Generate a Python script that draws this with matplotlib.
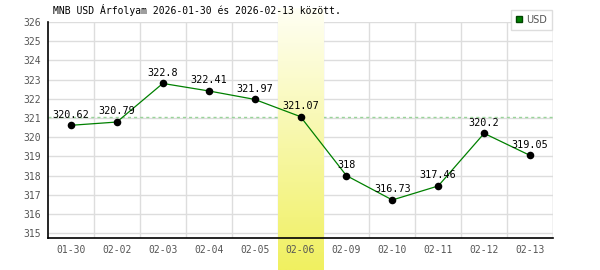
#!/usr/bin/env python3
"""
MNB USD exchange rate chart
"""
import numpy as np
import matplotlib
matplotlib.use('Agg')
import matplotlib.pyplot as plt
from matplotlib.colors import LinearSegmentedColormap
from matplotlib.lines import Line2D
from matplotlib.transforms import blended_transform_factory

# data
dates = ['01-30', '02-02', '02-03', '02-04', '02-05', '02-06',
         '02-09', '02-10', '02-11', '02-12', '02-13']
rates = [320.62, 320.79, 322.8, 322.41, 321.97, 321.07,
         318, 316.73, 317.46, 320.2, 319.05]
labels = ['320.62', '320.79', '322.8', '322.41', '321.97', '321.07',
          '318', '316.73', '317.46', '320.2', '319.05']
highlight = '02-06'
ref_rate = 321.07
y_ticks = list(range(315, 327))
title = 'MNB USD Árfolyam 2026-01-30 és 2026-02-13 között.'

mono = 'DejaVu Sans Mono'
grid_color = '#dddddd'
tick_color = '#555555'

fig = plt.figure(figsize=(6, 2.7), dpi=100)
fig.patch.set_facecolor('white')
ax = fig.add_axes([48 / 600, 1 - 238 / 270, 505 / 600, 216 / 270])
ax.set_facecolor('none')

x = np.arange(len(dates))

# grid drawn by hand so the highlight band can sit above it
for xv in np.arange(0.5, len(dates), 1.0):
    ax.axvline(xv, color=grid_color, lw=1, zorder=1)
for yv in y_ticks:
    ax.axhline(yv, color=grid_color, lw=1, zorder=1)

# reference line
ax.axhline(ref_rate, color='#99d499', lw=1, ls=(0, (2.2, 2.2)), zorder=1.5)

# highlighted day, gradient band running to the bottom of the figure
hi = dates.index(highlight)
cmap = LinearSegmentedColormap.from_list('band', ['#f0f060', '#fffff4'])
grad = np.linspace(0, 1, 256).reshape(-1, 1)
trans = blended_transform_factory(ax.transData, fig.transFigure)
ax.imshow(grad, cmap=cmap, aspect='auto', origin='lower',
          extent=[hi - 0.5, hi + 0.5, 0, 1 - 8 / 270],
          transform=trans, clip_on=False, zorder=2.2, interpolation='bilinear')
ax.set_xlim(-0.5, len(dates) - 0.5)
ax.set_ylim(314.75, 326)

# series
ax.plot(x, rates, color='#008000', lw=0.9, zorder=4)
ax.scatter(x, rates, s=30, color='black', zorder=5, linewidths=0)
for xi, yi, lab in zip(x, rates, labels):
    ax.annotate(lab, (xi, yi), xytext=(0, 4), textcoords='offset points',
                ha='center', va='bottom', fontsize=7.3, family=mono,
                color='black', zorder=6)

# axes styling
for side in ['top', 'right']:
    ax.spines[side].set_visible(False)
for side in ['left', 'bottom']:
    ax.spines[side].set_color('black')
    ax.spines[side].set_linewidth(1.2)
    ax.spines[side].set_zorder(3)
ax.axvline(len(dates) - 0.5, color=grid_color, lw=1, zorder=1)

ax.set_xticks(x)
ax.set_xticklabels(dates)
ax.set_yticks(y_ticks)
ax.tick_params(length=0, labelsize=7, labelcolor=tick_color)
ax.tick_params(axis='x', pad=5)
ax.tick_params(axis='y', pad=5)
for lab in ax.get_xticklabels() + ax.get_yticklabels():
    lab.set_family(mono)
ax.xaxis.set_zorder(3)

fig.text(53 / 600, 1 - 14 / 270, title, fontsize=7, family=mono,
         color='black', va='baseline', ha='left')

handle = Line2D([], [], marker='s', ls='none', markersize=5,
                markerfacecolor='#008000', markeredgecolor='#004400')
leg = fig.legend([handle], ['USD'], loc='upper right',
                 bbox_to_anchor=(552 / 600, 1 - 10 / 270),
                 fancybox=False, edgecolor=grid_color, framealpha=1,
                 handlelength=0.8, handletextpad=0.3, borderpad=0.5,
                 borderaxespad=0, prop={'size': 7})
for t in leg.get_texts():
    t.set_color(tick_color)
leg.get_frame().set_linewidth(1)

fig.savefig('out.png', dpi=100)
